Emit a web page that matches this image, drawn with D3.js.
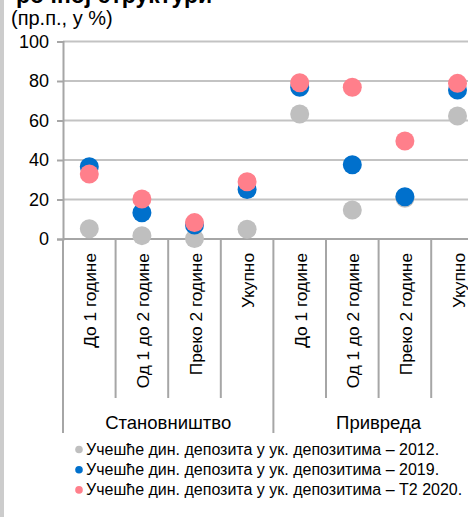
<!DOCTYPE html>
<html>
<head>
<meta charset="utf-8">
<script src="https://cdn.jsdelivr.net/npm/d3@7"></script>
<style>
  html, body { margin: 0; padding: 0; background: #fff; }
  svg { display: block; font-family: "Liberation Sans", Arial, sans-serif; }
</style>
</head>
<body>
<svg id="chart" width="468" height="517"></svg>
<script>
// Maturity categories and their sector groups
const categories = ["До 1 године", "Од 1 до 2 године", "Преко 2 године", "Укупно",
                    "До 1 године", "Од 1 до 2 године", "Преко 2 године", "Укупно"];
const groups = ["Становништво", "Привреда"];
const groupSize = 4;

// Share of dinar deposits in total deposits (%)
const share2012 = [5.2, 1.7, 0.2, 4.9, 63.3, 14.7, 20.6, 62.3];
const share2019 = [36.6, 13.3, 7.1, 25.1, 76.8, 37.6, 21.4, 75.4];
const shareQ2_2020 = [32.9, 20.3, 8.3, 29.0, 79.1, 76.8, 49.6, 78.8];

const seriesNames = [
  "Учешће дин. депозита у ук. депозитима – 2012.",
  "Учешће дин. депозита у ук. депозитима – 2019.",
  "Учешће дин. депозита у ук. депозитима – Т2 2020."
];
const yTicks = [0, 20, 40, 60, 80, 100];

const colors = ["#bfbfbf", "#0070cc", "#ff7f8b"];
const series = [share2012, share2019, shareQ2_2020];

const svg = d3.select("#chart");
const W = 468;

// left frame strip
svg.append("rect").attr("x", 0).attr("y", 0).attr("width", 4).attr("height", 517).attr("fill", "#cccccc");

// title (last line) and unit
svg.append("text").attr("x", 16).attr("y", 3)
  .attr("font-size", 23).attr("font-weight", "bold").attr("fill", "#000")
  .text("рочној структури");
svg.append("text").attr("x", 11).attr("y", 25)
  .attr("font-size", 20).attr("fill", "#000")
  .text("(пр.п., у %)");

const x0 = 63, bandW = 52.6;
const x = d3.scaleBand().domain(d3.range(categories.length))
  .range([x0, x0 + bandW * categories.length]).paddingInner(0).paddingOuter(0);
const y = d3.scaleLinear().domain([0, 100]).range([239, 41.5]);

// horizontal gridlines
svg.append("g").selectAll("line").data(yTicks.filter(d => d > 0)).join("line")
  .attr("x1", x0).attr("x2", W)
  .attr("y1", d => y(d)).attr("y2", d => y(d))
  .attr("stroke", "#c3c3c3").attr("stroke-width", 2);

// y axis
const yAxis = d3.axisLeft(y).tickValues(yTicks).tickSize(6).tickPadding(8);
const gy = svg.append("g").attr("transform", `translate(${x0},0)`).call(yAxis);
gy.select(".domain").attr("stroke", "#a6a6a6").attr("stroke-width", 2);
gy.selectAll(".tick line").attr("stroke", "#a6a6a6").attr("stroke-width", 2);
gy.selectAll(".tick text").attr("font-size", 18).attr("fill", "#000")
  .attr("font-family", "'Liberation Sans', Arial, sans-serif");

// x axis baseline
svg.append("line").attr("x1", x0).attr("x2", W).attr("y1", y(0)).attr("y2", y(0))
  .attr("stroke", "#a6a6a6").attr("stroke-width", 2);

// category separators (longer at group boundaries)
const bounds = d3.range(categories.length + 1);
svg.append("g").selectAll("line").data(bounds).join("line")
  .attr("x1", i => x0 + i * x.bandwidth()).attr("x2", i => x0 + i * x.bandwidth())
  .attr("y1", y(0))
  .attr("y2", i => (i % groupSize === 0) ? 433 : 398)
  .attr("stroke", "#a6a6a6").attr("stroke-width", 2);

// rotated category labels
svg.append("g").selectAll("text").data(categories).join("text")
  .attr("transform", (d, i) => `translate(${x(i) + x.bandwidth() / 2 + 1},253) rotate(-90)`)
  .attr("text-anchor", "end").attr("dominant-baseline", "central")
  .attr("font-size", 17.3).attr("fill", "#000")
  .text(d => d);

// group labels
svg.append("g").selectAll("text").data(groups).join("text")
  .attr("x", (d, g) => x0 + (g * groupSize + groupSize / 2) * x.bandwidth())
  .attr("y", 429)
  .attr("text-anchor", "middle").attr("font-size", 18.5).attr("fill", "#000")
  .text(d => d);

// dots: 2012 underneath, Q2 2020 on top
series.forEach((vals, s) => {
  svg.append("g").selectAll("circle").data(vals).join("circle")
    .attr("cx", (d, i) => x(i) + x.bandwidth() / 2)
    .attr("cy", d => y(d))
    .attr("r", 9.5)
    .attr("fill", colors[s]);
});

// legend
const lg = svg.append("g");
seriesNames.forEach((name, s) => {
  const cy = 449.5 + s * 20.2;
  lg.append("circle").attr("cx", 79).attr("cy", cy).attr("r", 3.8).attr("fill", colors[s]);
  lg.append("text").attr("x", 86).attr("y", cy).attr("dominant-baseline", "central")
    .attr("font-size", 16).attr("fill", "#000").text(name);
});
</script>
</body>
</html>
